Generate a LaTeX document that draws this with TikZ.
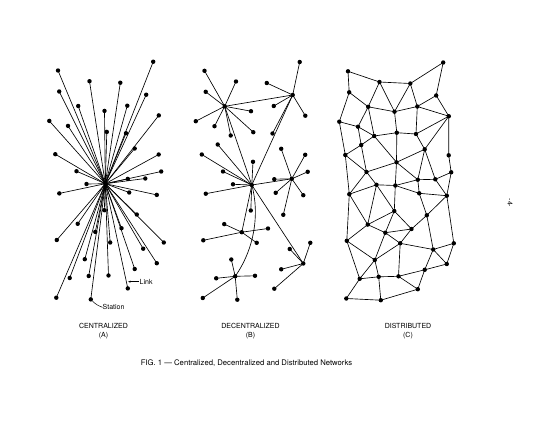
\documentclass[tikz,border=0pt]{standalone}
\usepackage{fontspec}
\setsansfont{TeX Gyre Heros}
\usetikzlibrary{arrows.meta}
\def\allpts{1/443.2/62.5,2/348/71.3,3/379.5/82,4/410.3/83.5,5/349.2/92.3,6/436.2/95.5,7/368.2/106.8,8/394.5/111.7,9/417.3/106.5,10/448.8/116.2,11/339.3/121.7,12/358/126.7,13/374.2/136,14/396.8/132.7,15/416/134,16/361.2/145,17/424.7/149.3,18/345.3/155,19/448.7/155.3,20/396.5/162.3,21/366.5/172,22/417.8/179.7,23/435.3/179.3,24/451.2/172.3,25/376.5/184.8,26/395.3/185.5,27/349.3/194.2,28/419.2/193.3,29/446.8/195.7,30/394.3/211,31/426.8/215.3,32/367.7/224.6,33/385.3/232.7,34/411.5/229,35/346.8/240.8,36/400.2/243.3,37/453.8/243.3,38/433.2/249.5,39/374.8/260,40/446.8/264,41/359.7/278.8,42/378.7/276.8,43/398.5/276.3,44/424.7/269.8,45/417.8/289.2,46/346.3/298.5,47/380.8/300.2}
\begin{document}
\begin{tikzpicture}[x=1pt,y=-1pt,
  dot/.style={circle,fill=black,inner sep=0pt,minimum size=4.4pt},
  link/.style={line width=0.65pt,black},
  lbl/.style={font=\sffamily\fontsize{7}{8}\selectfont,inner sep=0pt}]
\useasboundingbox (0,0) rectangle (542,424);
% ---------- (A) centralized ----------
\begin{scope}[shift={(-290,-0.8)},name prefix=a-]
  \node[dot] (26) at (395.3,184.5) {};
  \foreach \n/\x/\y in \allpts {
    \ifnum\n=13\relax\else\ifnum\n=16\relax\else\ifnum\n=20\relax\else\ifnum\n=26\relax\else
      \node[dot] (\n) at (\x,\y) {};
      \draw[link] (26.center) -- (\n.center);
    \fi\fi\fi\fi
  }
\end{scope}
% ---------- (B) decentralized ----------
\begin{scope}[shift={(-143.5,-0.5)},name prefix=b-]
  \foreach \n/\x/\y in \allpts { \node[dot] (\n) at (\x,\y) {}; }
  \foreach \h/\s in {7/2,7/3,7/5,7/8,7/11,7/12,7/13,7/14,7/6,7/26,
                     6/1,6/4,6/9,6/10,6/15,6/26,
                     26/18,26/16,26/20,26/21,26/25,26/27,26/30,26/23,26/33,26/40,
                     23/17,23/19,23/22,23/24,23/28,23/29,23/31,
                     33/32,33/34,33/35,33/36,
                     42/39,42/41,42/43,42/46,42/47,
                     40/38,40/37,40/44,40/45}
    \draw[link] (\h.center) -- (\s.center);
  \draw[link] (26.center) .. controls (403.5,215) and (397.5,250) .. (42.center);
\end{scope}
% ---------- (C) distributed ----------
\begin{scope}[name prefix=c-]
  \foreach \n/\x/\y in \allpts { \node[dot] (\n) at (\x,\y) {}; }
  \foreach \a/\b in {2/3,3/4,4/1,1/6,2/5,5/7,3/7,3/8,4/8,4/9,7/8,8/9,6/9,6/10,9/10,5/11,7/12,7/13,8/14,9/15,
    11/12,12/13,13/14,14/15,15/10,10/17,10/19,11/18,12/16,13/16,13/20,14/20,15/17,16/18,16/21,18/21,20/21,20/17,
    17/22,17/23,19/24,20/22,22/23,23/24,21/25,20/26,18/27,21/27,
    27/25,25/26,26/28,26/22,28/29,22/28,23/29,24/29,25/32,25/30,26/30,27/32,27/35,28/31,29/31,29/37,
    30/32,30/33,30/34,31/34,31/38,32/33,32/35,33/34,33/36,34/36,33/39,35/39,36/38,36/39,36/43,37/38,37/40,38/40,38/44,
    35/41,39/41,39/42,41/42,42/43,42/47,43/45,43/44,44/40,44/45,41/46,46/47,47/45}
    \draw[link] (\a.center) -- (\b.center);
\end{scope}
% ---------- labels ----------
\node[lbl,anchor=west] (lk) at (139.5,281.7) {Link};
\coordinate (lkt) at (128.2,281.7);
\draw[line width=0.5pt,-{Stealth[length=2.4pt,width=2pt]}] (lk.west) ++(-1,0) -- (lkt);
\node[lbl,anchor=west] (st) at (102.5,307.3) {Station};
\draw[line width=0.5pt] (a-47) to[bend right=12] (st.west);
\node[lbl] (tA) at (103.5,325.5) {CENTRALIZED};
\node[lbl] (tA2) at (103.5,335.5) {(A)};
\node[lbl] (tB) at (250.5,325.5) {DECENTRALIZED};
\node[lbl] (tB2) at (250.5,335.5) {(B)};
\node[lbl] (tC) at (408,325.5) {DISTRIBUTED};
\node[lbl] (tC2) at (408,335.5) {(C)};
\node[lbl,font=\sffamily\fontsize{7.7}{9}\selectfont] (cap) at (246.5,363) {FIG. 1 --- Centralized, Decentralized and Distributed Networks};
\node[lbl,rotate=-90] (pg) at (510,203) {-4-};
\end{tikzpicture}
\end{document}
